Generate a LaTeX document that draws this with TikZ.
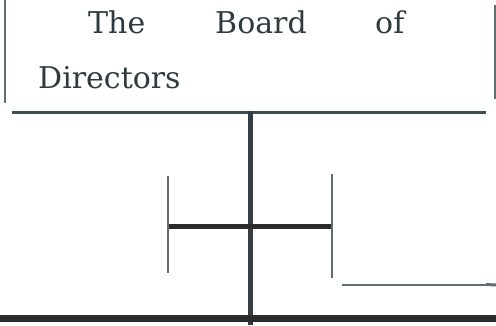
\documentclass[tikz,border=0pt]{standalone}
\usepackage{fontspec}
\setmainfont{DejaVu Serif}
\definecolor{txt}{HTML}{2F3A3E}
\definecolor{thinln}{HTML}{5E6E74}
\definecolor{midln}{HTML}{3E4E54}
\definecolor{thick}{HTML}{343C44}
\definecolor{bar}{HTML}{2B2B2B}
\tikzset{
  word/.style={anchor=base west, inner sep=0pt, text=txt, font=\fontsize{30}{36}\selectfont},
  thinline/.style={draw=thinln, line width=2pt},
  midline/.style={draw=midln, line width=3pt},
  trunk/.style={draw=thick, line width=5pt},
  crossbar/.style={draw=bar, line width=5pt},
  baseline/.style={draw=bar, line width=7pt}
}
\begin{document}
\begin{tikzpicture}[x=1pt,y=-1pt]
\useasboundingbox (0,0) rectangle (496,325);
% box sides
\coordinate (lt) at (4.5,0);
\coordinate (lb) at (4.5,103);
\coordinate (rt) at (494.5,5);
\coordinate (rb) at (494.5,99);
\draw[thinline] (lt) -- (lb);
\draw[thinline] (rt) -- (rb);
% text
\node[word] (w1) at (88,33) {The};
\node[word] (w2) at (215,33) {Board};
\node[word] (w3) at (375,33) {of};
\node[word] (w4) at (38,88) {Directors};
% line under box
\coordinate (ul) at (12,112.5);
\coordinate (ur) at (486,112.5);
\draw[midline] (ul) -- (ur);
% trunk
\coordinate (tt) at (250,111);
\coordinate (tb) at (250,325);
\draw[trunk] (tt) -- (tb);
% cross bar
\coordinate (cl) at (169,226.5);
\coordinate (cr) at (331,226.5);
\draw[crossbar] (cl) -- (cr);
% thin verticals
\coordinate (v1t) at (168,176);
\coordinate (v1b) at (168,273);
\draw[thinline] (v1t) -- (v1b);
\coordinate (v2t) at (332,174);
\coordinate (v2b) at (332,278);
\draw[thinline] (v2t) -- (v2b);
% lower right line
\coordinate (hl) at (342,284.5);
\coordinate (hm) at (486,284.5);
\coordinate (hr) at (496,285);
\draw[thinline] (hl) -- (hm);
\draw[draw=thinln, line width=3pt] (hm) -- (hr);
% bottom line
\coordinate (bl) at (0,318);
\coordinate (br) at (496,318);
\draw[baseline] (bl) -- (br);
\end{tikzpicture}
\end{document}
